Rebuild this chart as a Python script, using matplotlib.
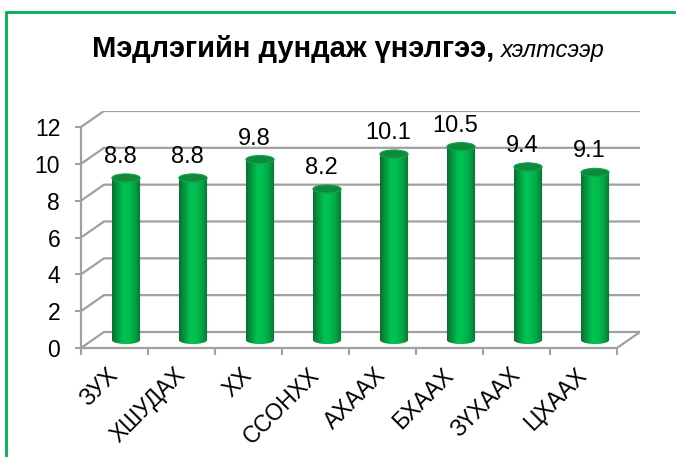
import matplotlib
matplotlib.use('Agg')
import matplotlib.pyplot as plt
import numpy as np
from matplotlib.patches import Ellipse, PathPatch, Rectangle
from matplotlib.path import Path
from matplotlib.colors import LinearSegmentedColormap

plt.rcParams['font.family'] = ['Liberation Sans', 'DejaVu Sans']

# data
categories = ['ЗУХ', 'ХШУДАХ', 'ХХ', 'ССОНХХ', 'АХААХ', 'БХААХ', 'ЗҮХААХ', 'ЦХААХ']
scores = [8.8, 8.8, 9.8, 8.2, 10.1, 10.5, 9.4, 9.1]
y_ticks = [0, 2, 4, 6, 8, 10, 12]
title_main = 'Мэдлэгийн дундаж үнэлгээ,'
title_sub = 'хэлтсээр'

W, H = 676, 457
fig = plt.figure(figsize=(W / 100, H / 100), dpi=100)

# plot box in pixels (front origin at 81,348, back wall top at 111)
left, right, bottom, top = 81, 640, 348, 111
ax = fig.add_axes([left / W, 1 - bottom / H, (right - left) / W, (bottom - top) / H])
n = len(categories)
depth_x = 0.343
depth_y = 0.87
grid_color = '#A0A0A0'

# back wall + left wall gridlines
for v in y_ticks:
    ax.plot([0, depth_x, n + depth_x], [v, v + depth_y, v + depth_y],
            color=grid_color, lw=1.6, zorder=1, solid_joinstyle='miter')
ax.plot([n, n + depth_x], [0, depth_y], color=grid_color, lw=1.6, zorder=1)

# cylinders
bar_w = 0.42
cap_h = 0.44
cmap = LinearSegmentedColormap.from_list(
    'cyl', ['#0B6E2E', '#049C41', '#00C352', '#00BC4F', '#04A343', '#0A7030'])
grad = np.linspace(0, 1, 64).reshape(1, -1)
for i, v in enumerate(scores):
    cx = i + 0.5 + depth_x / 2
    base = depth_y / 2
    topy = v + depth_y / 2
    x0, x1 = cx - bar_w / 2, cx + bar_w / 2
    t = np.linspace(np.pi, 2 * np.pi, 40)
    arc_x = cx + bar_w / 2 * np.cos(t)
    arc_y = base + cap_h / 2 * np.sin(t)
    verts = [(x0, topy)] + list(zip(arc_x, arc_y)) + [(x1, topy), (x0, topy)]
    codes = [Path.MOVETO] + [Path.LINETO] * (len(verts) - 2) + [Path.CLOSEPOLY]
    body = PathPatch(Path(verts, codes), transform=ax.transData,
                     facecolor='none', edgecolor='none')
    im = ax.imshow(grad, cmap=cmap, extent=(x0, x1, base - cap_h / 2, topy),
                   aspect='auto', zorder=3, interpolation='bilinear')
    im.set_clip_path(body)
    ax.add_patch(Ellipse((cx, topy), bar_w, cap_h, facecolor='#0E8A3C',
                         edgecolor='#17A24B', lw=0.8, zorder=4))
    ax.text(i + 0.5 + 0.09, topy + 1.14, f'{v:g}', ha='center', va='center',
            fontsize=17, zorder=5)

ax.set_xlim(0, n + depth_x)
ax.set_ylim(0, 12 + depth_y)

# axes
for s in ['top', 'right']:
    ax.spines[s].set_visible(False)
ax.spines['left'].set_bounds(0, 12)
ax.spines['bottom'].set_bounds(0, n)
for s in ['left', 'bottom']:
    ax.spines[s].set_color(grid_color)
    ax.spines[s].set_linewidth(1.6)
    ax.spines[s].set_zorder(2)

ax.set_yticks(y_ticks)
ax.tick_params(axis='y', length=4, width=1.5, color=grid_color, pad=11, labelsize=16.5)
ax.set_xticks(np.arange(n) + 0.5)
ax.set_xticklabels(categories, rotation=45, ha='right', va='center', rotation_mode='anchor')
ax.set_xticks(np.arange(n + 1), minor=True)
ax.tick_params(axis='x', which='major', length=0, pad=17, labelsize=16.5)
ax.tick_params(axis='x', which='minor', length=5, width=1.5, color=grid_color)
ax.patch.set_visible(False)

# title: bold part + italic part
t1 = fig.text(92 / W, 1 - 57 / H, title_main, fontsize=21, fontweight='bold', va='baseline')
fig.canvas.draw()
bb = t1.get_window_extent()
fig.text((bb.x1 + 7) / W, 1 - 57 / H, title_sub, fontsize=17, style='italic', va='baseline')

# green frame
fig.patches.append(Rectangle((6 / W, -0.1), 1.2, 1 - 12 / H + 0.1, transform=fig.transFigure,
                             fill=False, edgecolor='#00B050', lw=2))

fig.savefig('out.png', dpi=100)
